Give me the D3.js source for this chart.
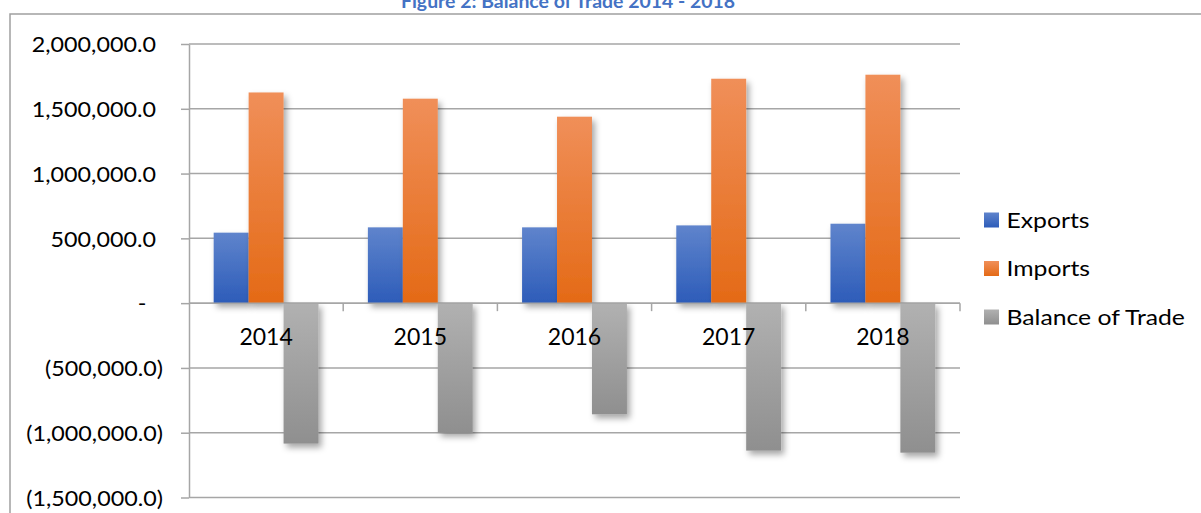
<!DOCTYPE html>
<html>
<head>
<meta charset="utf-8">
<script src="https://cdn.jsdelivr.net/npm/d3@7"></script>
<style>
  body { margin: 0; background: #fff; }
  svg { display: block; font-family: Lato, "Open Sans", sans-serif; }
</style>
</head>
<body>
<div id="chart"></div>
<script>
var years = ["2014", "2015", "2016", "2017", "2018"];
var seriesNames = ["Exports", "Imports", "Balance of Trade"];
var exportsVals = [544000, 585000, 585000, 600000, 613000];
var importsVals = [1626000, 1578000, 1439000, 1732000, 1763000];
var balanceVals = [-1084000, -1000000, -858000, -1138000, -1154000];
var yTicks = [-1500000, -1000000, -500000, 0, 500000, 1000000, 1500000, 2000000];

var W = 1201, H = 513;
var plotLeft = 189, plotRight = 960, plotTop = 44, plotBottom = 497.5;
var gridColor = "#a6a6a6";

// top -> bottom gradient colours per series
var gradColors = [
    ["#5f84cc", "#2d5cb9"],
    ["#f08f59", "#e46a16"],
    ["#b1b1b1", "#8f8f8f"]
];

// widen text a little, the original font runs wider than Lato
function stretch(sel, k) {
    sel.attr("textLength", function() { return this.getComputedTextLength() * k; })
        .attr("lengthAdjust", "spacingAndGlyphs");
}

var svg = d3.select("#chart")
    .append("svg")
    .attr("width", W)
    .attr("height", H);

var defs = svg.append("defs");

gradColors.forEach(function(c, i) {
    var g = defs.append("linearGradient")
        .attr("id", "grad" + i)
        .attr("x1", 0).attr("y1", 0)
        .attr("x2", 0).attr("y2", 1);
    g.append("stop").attr("offset", "0%").attr("stop-color", c[0]);
    g.append("stop").attr("offset", "100%").attr("stop-color", c[1]);
});

defs.append("filter")
    .attr("id", "shadow")
    .attr("filterUnits", "userSpaceOnUse")
    .attr("x", 0).attr("y", 0)
    .attr("width", W).attr("height", H)
    .append("feDropShadow")
    .attr("dx", 3)
    .attr("dy", 4)
    .attr("stdDeviation", 3)
    .attr("flood-color", "#000")
    .attr("flood-opacity", 0.35);

// outer frame of the chart object
svg.append("path")
    .attr("d", "M10," + H + "V14H" + W)
    .attr("fill", "none")
    .attr("stroke", "#a0a0a0")
    .attr("stroke-width", 1.5);

// title (partly cut off at the top)
svg.append("text")
    .attr("x", 568)
    .attr("y", 8)
    .attr("text-anchor", "middle")
    .attr("fill", "#4472c4")
    .style("font-weight", "bold")
    .style("font-size", "18px")
    .text("Figure 2: Balance of Trade 2014 - 2018")
    .call(stretch, 1.08);

var y = d3.scaleLinear()
    .domain([-1500000, 2000000])
    .range([plotBottom, plotTop]);

var x = d3.scaleBand()
    .domain(years)
    .range([plotLeft, plotRight]);

var xs = d3.scaleBand()
    .domain(seriesNames)
    .range([x.bandwidth() * 0.16, x.bandwidth() * 0.84]);

// gridlines
svg.append("g")
    .selectAll("line")
    .data(yTicks)
    .join("line")
    .attr("x1", plotLeft)
    .attr("x2", plotRight)
    .attr("y1", d => y(d))
    .attr("y2", d => y(d))
    .attr("stroke", gridColor)
    .attr("stroke-width", 1.5);

// accounting style number format
var fmt = d3.format(",.1f");
function accounting(d) {
    if (d === 0) return "-";
    if (d < 0) return "(" + fmt(-d) + ")";
    return fmt(d);
}

var yAxis = svg.append("g")
    .attr("transform", "translate(" + plotLeft + ",0)")
    .call(d3.axisLeft(y).tickValues(yTicks).tickFormat(accounting).tickSizeInner(8).tickSizeOuter(0));

yAxis.attr("font-family", null).attr("font-size", null);
yAxis.select(".domain").attr("stroke", gridColor).attr("stroke-width", 1.5);
yAxis.selectAll(".tick line").attr("stroke", gridColor).attr("stroke-width", 1.5);
yAxis.selectAll(".tick text")
    .attr("fill", "#000")
    .style("font-size", "22px")
    .attr("dy", "0.35em")
    .attr("x", d => d === 0 ? -47 : (d < 0 ? -26 : -33))
    .attr("text-anchor", d => d === 0 ? "middle" : "end")
    .call(stretch, 1.06);

// bars
var seriesData = [exportsVals, importsVals, balanceVals];

seriesData.forEach(function(vals, si) {
    svg.append("g")
        .selectAll("rect")
        .data(vals)
        .join("rect")
        .attr("x", (d, i) => x(years[i]) + xs(seriesNames[si]))
        .attr("width", xs.bandwidth())
        .attr("y", d => y(Math.max(0, d)))
        .attr("height", d => Math.abs(y(d) - y(0)))
        .attr("fill", "url(#grad" + si + ")")
        .attr("filter", "url(#shadow)");
});

// category axis at zero
var xAxis = svg.append("g")
    .attr("transform", "translate(0," + y(0) + ")");

xAxis.append("line")
    .attr("x1", plotLeft)
    .attr("x2", plotRight)
    .attr("stroke", gridColor)
    .attr("stroke-width", 1.5);

xAxis.selectAll("line.tk")
    .data(years.slice(1).concat(["end"]))
    .join("line")
    .attr("class", "tk")
    .attr("x1", (d, i) => plotLeft + (i + 1) * x.bandwidth())
    .attr("x2", (d, i) => plotLeft + (i + 1) * x.bandwidth())
    .attr("y1", 0)
    .attr("y2", 8)
    .attr("stroke", gridColor)
    .attr("stroke-width", 1.5);

xAxis.selectAll("text")
    .data(years)
    .join("text")
    .attr("x", d => x(d) + x.bandwidth() / 2)
    .attr("y", 42)
    .attr("text-anchor", "middle")
    .attr("fill", "#000")
    .style("font-size", "23px")
    .text(d => d);

// legend
var legend = svg.append("g")
    .attr("transform", "translate(984,0)");

var legendY = [220, 268.5, 317];

legend.selectAll("rect")
    .data(seriesNames)
    .join("rect")
    .attr("x", 0)
    .attr("y", (d, i) => legendY[i] - 7.5)
    .attr("width", 15)
    .attr("height", 15)
    .attr("fill", (d, i) => "url(#grad" + i + ")");

legend.selectAll("text")
    .data(seriesNames)
    .join("text")
    .attr("x", 22.5)
    .attr("y", (d, i) => legendY[i])
    .attr("dy", "0.35em")
    .attr("fill", "#000")
    .style("font-size", "21.5px")
    .text(d => d)
    .call(stretch, 1.15);
</script>
</body>
</html>
